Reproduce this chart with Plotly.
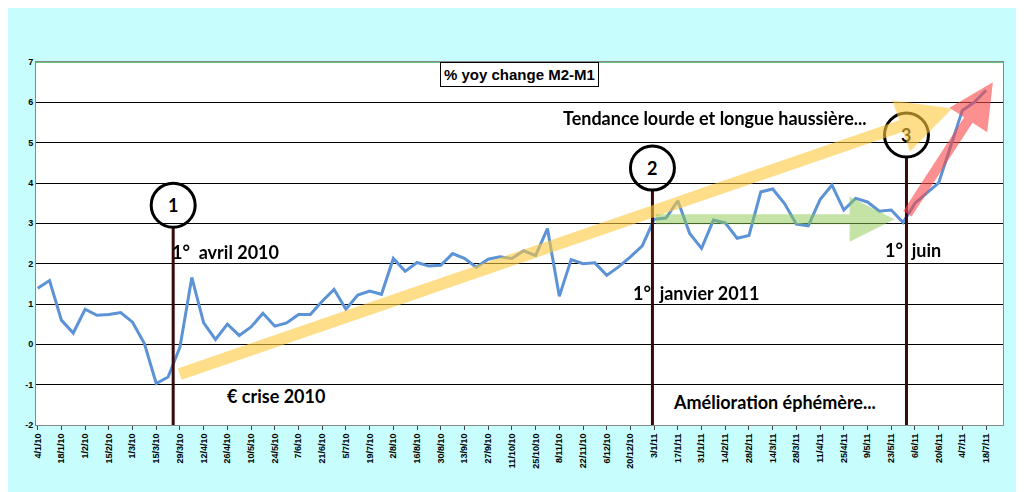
import plotly.graph_objects as go
import pandas as pd

values = [1.39,1.58,0.60,0.28,0.87,0.72,0.74,0.79,0.55,0.02,-0.97,-0.81,-0.07,1.66,0.53,0.12,0.50,0.22,0.43,0.77,
          0.45,0.53,0.74,0.74,1.07,1.36,0.87,1.22,1.32,1.24,2.13,1.81,2.03,1.94,1.96,2.25,2.13,1.91,2.11,2.17,
          2.13,2.32,2.20,2.87,1.19,2.10,2.00,2.02,1.71,1.92,2.17,2.44,3.10,3.13,3.56,2.75,2.38,3.08,3.01,2.63,
          2.70,3.78,3.85,3.49,2.98,2.94,3.59,3.95,3.33,3.62,3.53,3.30,3.33,3.02,3.50,3.75,4.00,4.90,5.80,6.00,6.30]
dates = pd.date_range("2010-01-04", periods=len(values), freq="7D")
tick_dates = dates[::2]
tick_labels = [f"<b>{d.day}/{d.month}/{d.strftime('%y')}</b>" for d in tick_dates]

events = ["2010-03-25", "2011-01-02", "2011-06-01"]
event_labels = ["1", "2", "3"]
event_circle_y = [3.45, 4.37, 5.19]

fig = go.Figure()
fig.add_trace(go.Scatter(x=dates, y=values, mode="lines",
                         line=dict(color="#5b93d6", width=3), showlegend=False))

F = dict(family="Lato", size=18, color="black")
shapes = []
annotations = []
for d, lab, cy in zip(events, event_labels, event_circle_y):
    shapes.append(dict(type="line", x0=d, x1=d, y0=-2, y1=cy - 0.55, xref="x", yref="y",
                       line=dict(color="#3a0a0a", width=3)))
    shapes.append(dict(type="circle", xref="x", yref="y", xsizemode="pixel", ysizemode="pixel",
                       xanchor=d, yanchor=cy, x0=-22, x1=22, y0=-22, y1=22,
                       line=dict(color="black", width=3), fillcolor="rgba(0,0,0,0)"))
    annotations.append(dict(x=d, y=cy, text=f"<b>{lab}</b>", showarrow=False, font=F))

arrows = [
    ("2010-03-28", -0.75, "2011-06-28", 5.85, "rgba(255,200,60,0.6)", 12),
    ("2011-01-03", 3.1, "2011-05-25", 3.1, "rgba(140,200,80,0.5)", 10),
    ("2011-06-01", 3.2, "2011-07-22", 6.5, "rgba(250,70,70,0.6)", 10),
]
for x0, y0, x1, y1, c, w in arrows:
    annotations.append(dict(x=x1, y=y1, ax=x0, ay=y0, xref="x", yref="y", axref="x", ayref="y",
                            showarrow=True, arrowhead=2, arrowsize=0.9, arrowwidth=w, arrowcolor=c, text=""))

texts = [
    ("2010-04-25", 2.28, "1°  avril 2010"),
    ("2010-05-25", -1.29, "€ crise 2010"),
    ("2011-01-28", 1.27, "1°  janvier 2011"),
    ("2011-03-15", -1.44, "Amélioration éphémère..."),
    ("2011-02-08", 5.6, "Tendance lourde et longue haussière..."),
    ("2011-06-05", 2.33, "1°  juin"),
]
for x, y, t in texts:
    annotations.append(dict(x=x, y=y, text=f"<b>{t}</b>", showarrow=False, font=F))

annotations.append(dict(x=0.5, y=1.0, xref="paper", yref="paper", text="<b>% yoy change M2-M1</b>",
                        showarrow=False, font=dict(family="Liberation Sans", size=15, color="black"),
                        bgcolor="white", bordercolor="black", borderwidth=1, borderpad=3))

shapes.append(dict(type="line", xref="paper", yref="y", x0=0, x1=1, y0=7, y1=7,
                   line=dict(color="#2bb24c", width=1.5), layer="below"))

fig.update_layout(
    width=1024, height=492,
    margin=dict(l=28, r=29, t=54, b=75),
    paper_bgcolor="#c8fdfd", plot_bgcolor="white",
    shapes=shapes, annotations=annotations,
    xaxis=dict(range=[dates[0] - pd.Timedelta(days=1), dates[-1] + pd.Timedelta(days=10)],
               tickvals=tick_dates, ticktext=tick_labels, tickangle=-90,
               tickfont=dict(family="Liberation Sans", size=9, color="black"),
               showgrid=False, ticks="outside", ticklen=4, linecolor="#888", mirror=True, showline=True),
    yaxis=dict(range=[-2, 7], dtick=1, showgrid=True, gridcolor="black", gridwidth=1,
               tickvals=list(range(-2, 8)), ticktext=[f"<b>{v}</b>" for v in range(-2, 8)],
               tickfont=dict(family="Liberation Sans", size=9, color="black"),
               zeroline=False, showline=True, linecolor="#888", mirror=True),
)
fig.write_html("out.html")
